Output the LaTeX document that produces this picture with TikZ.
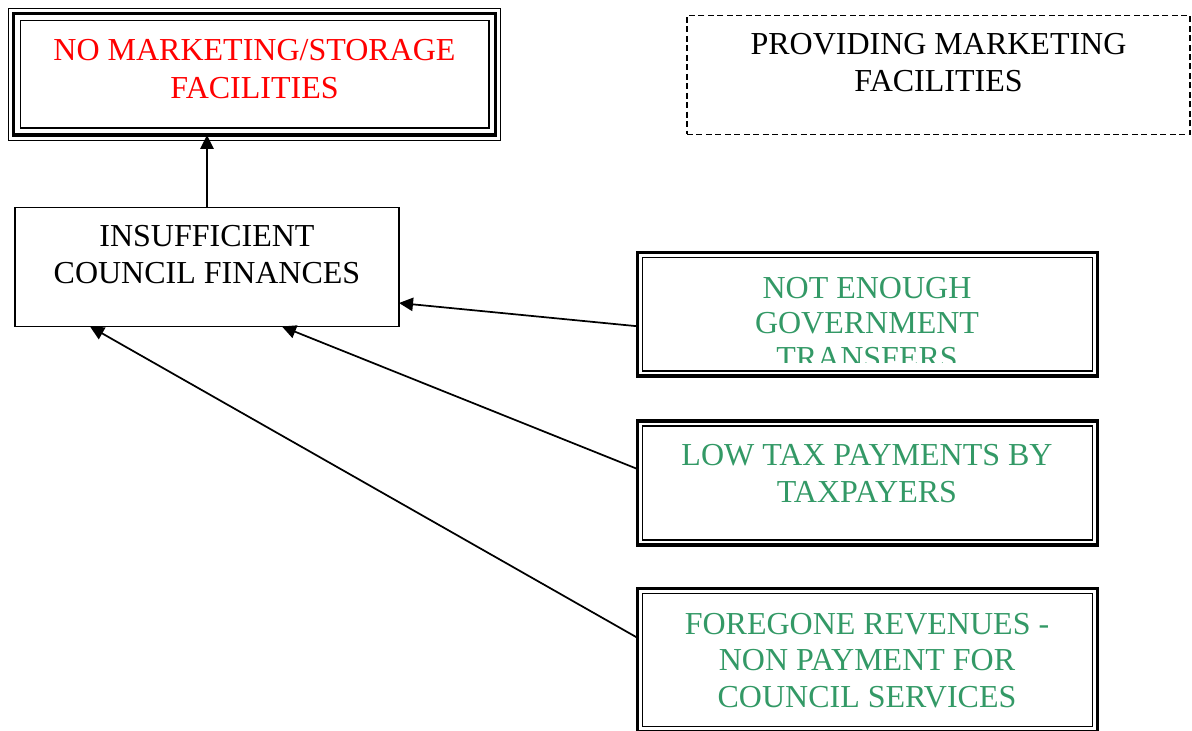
\documentclass[tikz,border=0pt]{standalone}
\usepackage{fontspec}
\setmainfont{Liberation Serif}
\usetikzlibrary{arrows.meta,calc}
\definecolor{causered}{HTML}{FF0000}
\definecolor{causegreen}{HTML}{339966}
\tikzset{
  shapebox/.style={draw, rectangle, inner sep=0pt, outer sep=0pt},
  boxtext/.style={align=center, inner sep=0pt, font=\fontsize{24}{27.6}\selectfont},
  thinline/.style={line width=1.15pt},
  thickline/.style={line width=2.8pt},
  arr/.style={line width=1.3pt, -{Triangle[length=10.5pt,width=10pt]}},
}
\begin{document}
\begin{tikzpicture}[x=0.75pt,y=-0.75pt]
\useasboundingbox (0,0) rectangle (1192,731);

% problem box with a triple border
\node[shapebox, thickline, minimum width=361.5pt, minimum height=91.1pt] (nomkt) at (254.5,74.25) {};
\draw[thinline] ($(nomkt.north west)+(-5,-5)$) rectangle ($(nomkt.south east)+(5,5.5)$);
\draw[thinline] ($(nomkt.north west)+(7,7)$) rectangle ($(nomkt.south east)+(-6.5,-7)$);
\node[boxtext, text=causered, font=\fontsize{24}{28.5}\selectfont] (nomkttxt) at (254.5,69)
  {NO MARKETING/STORAGE\\FACILITIES};

% solution box, dashed
\node[shapebox, line width=1.15pt, dash pattern=on 4.5pt off 2.6pt,
      minimum width=377.25pt, minimum height=89.25pt] (provide) at (938.5,75) {};
\node[boxtext, font=\fontsize{24}{27.75}\selectfont] (providetxt) at (938.5,62.5)
  {PROVIDING MARKETING\\FACILITIES};

% intermediate cause
\node[shapebox, line width=1.3pt, minimum width=288pt, minimum height=89.25pt] (finance) at (207,267) {};
\node[boxtext, font=\fontsize{24}{27.75}\selectfont] (financetxt) at (207,254.5)
  {INSUFFICIENT\\COUNCIL FINANCES};

% root causes with a double border
\node[shapebox, line width=2.4pt, minimum width=345pt, minimum height=92.6pt] (transfers) at (867.5,314.25) {};
\draw[thinline] ($(transfers.north west)+(5,5)$) rectangle ($(transfers.south east)+(-5,-5)$);
\begin{scope}
  \clip (643,258) rectangle (1092,362);
  \node[boxtext, text=causegreen, font=\fontsize{24}{26.25}\selectfont] (transferstxt) at (867,323)
    {NOT ENOUGH\\GOVERNMENT\\TRANSFERS};
\end{scope}

\node[shapebox, line width=2.4pt, minimum width=345pt, minimum height=93pt] (tax) at (867.5,483) {};
\draw[thinline] ($(tax.north west)+(5,5)$) rectangle ($(tax.south east)+(-5,-5)$);
\node[boxtext, text=causegreen, font=\fontsize{24}{27.75}\selectfont] (taxtxt) at (867,473.5)
  {LOW TAX PAYMENTS BY\\TAXPAYERS};

\node[shapebox, line width=2.4pt, minimum width=345pt, minimum height=107pt] (foregone) at (867.5,659.8) {};
\draw[thinline] ($(foregone.north west)+(5,5)$) rectangle ($(foregone.south east)+(-5,-4.5)$);
\node[boxtext, text=causegreen, font=\fontsize{24}{27.4}\selectfont] (foregonetxt) at (867,660.5)
  {FOREGONE REVENUES -\\NON PAYMENT FOR\\COUNCIL SERVICES};

% connectors
\draw[arr] (finance.north) -- (finance.north |- nomkt.south);
\draw[arr] ($(transfers.west)+(0,12)$) -- ($(finance.east)+(0,36)$);
\draw[arr] ($(tax.west)+(0,-14)$) -- ($(finance.south)+(75,0)$);
\draw[arr] ($(foregone.west)+(0,-22)$) -- ($(finance.south)+(-117,0)$);
\end{tikzpicture}
\end{document}
